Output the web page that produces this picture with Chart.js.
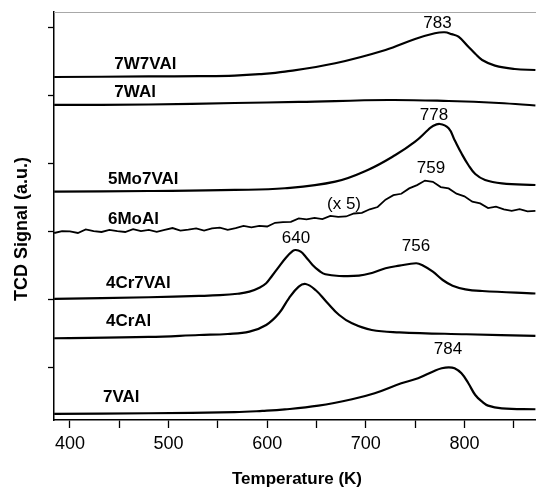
<!DOCTYPE html>
<html>
<head>
<meta charset="utf-8">
<script src="https://cdn.jsdelivr.net/npm/chart.js@4.4.1/dist/chart.umd.min.js"></script>
<style>
  body { margin: 0; background: #fff; }
  canvas { display: block; }
</style>
</head>
<body>
<canvas id="tpr" width="536" height="488"></canvas>
<script>
// H2-TPR profiles, temperature (K) vs TCD signal (a.u., curves stacked with offsets)
const w7vTemp = [384, 480, 531, 567, 592, 618, 669, 720, 750, 770, 780, 787, 794, 804, 811, 818, 831, 851, 872]
const w7vSig = [42.79, 42.87, 42.92, 43.0, 43.2, 43.57, 44.81, 46.76, 48.38, 49.22, 49.37, 49.1, 48.72, 47.25, 46.2, 45.29, 44.46, 43.97, 43.82]

const wTemp = [384, 480, 567, 632, 723, 784, 835, 872]
const wSig = [38.68, 38.75, 38.97, 39.12, 39.41, 39.26, 38.97, 38.6]

const mo7vTemp = [384, 480, 567, 618, 669, 702, 730, 750, 763, 767, 775, 784, 790, 797, 804, 811, 821, 838, 872]
const mo7vSig = [25.93, 26.03, 26.18, 26.43, 27.40, 29.12, 31.32, 33.28, 35.0, 35.49, 35.88, 35.25, 33.53, 31.57, 29.85, 28.53, 27.65, 27.16, 26.91]

const moTemp = [384, 392, 400, 408, 416, 424, 432, 440, 448, 456, 464, 472, 480, 488, 496, 504, 512, 520, 528, 536,
  544, 552, 560, 568, 576, 584, 592, 600, 608, 616, 624, 632, 640, 648, 656, 664, 672, 680, 688, 696,
  704, 712, 720, 728, 736, 744, 752, 760, 768, 776, 784, 792, 800, 808, 816, 824, 832, 840, 848, 856, 864, 872]
const moSig = [19.85, 20.12, 20.08, 19.85, 20.37, 20.13, 20.0, 20.32, 20.13, 20.0, 20.42, 20.13, 20.3, 20.03, 20.31, 20.58, 20.21, 20.34, 20.52, 20.19,
  20.52, 20.65, 20.32, 20.57, 20.89, 20.67, 20.89, 20.81, 21.35, 21.45, 21.5, 22.0, 21.86, 22.08, 21.9, 22.37, 22.22, 22.28, 22.72, 22.82,
  23.34, 23.67, 24.76, 25.41, 25.62, 26.41, 26.89, 27.56, 27.37, 26.6, 26.41, 25.63, 25.25, 24.46, 24.21, 23.52, 23.72, 23.32, 23.1, 23.35, 23.02, 23.09]

const cr7vTemp = [384, 480, 531, 552, 570, 582, 592, 599, 605, 612, 619, 626, 629, 634, 639, 646, 653, 659, 673, 693, 707, 720, 734, 751, 757, 768, 778, 788, 801, 818, 872]
const cr7vSig = [10.15, 10.4, 10.59, 10.7, 10.92, 11.22, 11.81, 12.46, 13.57, 14.90, 16.22, 17.21, 17.35, 17.10, 16.37, 15.15, 14.26, 13.78, 13.53, 13.57, 14.01, 14.66, 15.04, 15.40, 15.15, 14.16, 12.94, 12.10, 11.57, 11.32, 10.95]

const crTemp = [384, 480, 531, 560, 582, 599, 612, 622, 632, 639, 649, 660, 673, 686, 706, 734, 802, 872]
const crSig = [4.37, 4.56, 4.85, 5.0, 5.34, 6.32, 8.04, 10.25, 11.96, 12.35, 11.47, 9.75, 7.79, 6.57, 5.59, 5.25, 4.96, 4.71]

const v7Temp = [384, 480, 567, 595, 618, 652, 686, 709, 736, 753, 770, 777, 784, 790, 797, 804, 811, 818, 824, 838, 872]
const v7Sig = [-6.76, -6.66, -6.5, -6.32, -6.1, -5.54, -4.60, -3.72, -2.25, -1.51, -0.40, -0.04, 0.10, -0.04, -0.78, -2.25, -3.97, -4.96, -5.54, -5.93, -6.07]

const xTicks = [400, 450, 500, 550, 600, 650, 700, 750, 800, 850]
const yTicks = [0, 10, 20, 30, 40, 50]

// curve names and peak labels, anchored in data units
const curveNames = ['7W7VAl', '7WAl', '5Mo7VAl', '6MoAl', '4Cr7VAl', '4CrAl', '7VAl']
const nameAt = [[445, 44.6], [445, 40.5], [438.5, 27.7], [438.5, 21.9], [436.5, 12.4], [436.5, 6.8], [433.5, -4.3]]
const peakText = ['783', '778', '759', '(x 5)', '640', '756', '784']
const peakAt = [[772.7, 50.7], [769.2, 37.2], [766.1, 29.4], [677.9, 24.1], [629.2, 19.1], [750.9, 17.9], [783.4, 2.8]]

const ff = '"Liberation Sans", Arial, Helvetica, sans-serif'

function pts(xs, ys) {
  return xs.map((t, i) => ({ x: t, y: ys[i] }))
}

function curve(label, xs, ys, smooth) {
  return {
    label: label,
    data: pts(xs, ys),
    borderColor: '#000',
    borderWidth: smooth ? 2.2 : 1.8,
    pointRadius: 0,
    fill: false,
    tension: smooth ? 0.4 : 0
  }
}

const textPlugin = {
  id: 'tprText',
  afterDatasetsDraw(chart) {
    const ctx = chart.ctx
    const area = chart.chartArea
    const x = chart.scales.x
    const y = chart.scales.y
    ctx.save()
    // thin grey frame line along the top
    ctx.strokeStyle = '#a8a8a8'
    ctx.lineWidth = 1
    ctx.beginPath()
    ctx.moveTo(area.left, area.top + 0.5)
    ctx.lineTo(area.right, area.top + 0.5)
    ctx.stroke()

    ctx.fillStyle = '#000'
    ctx.textBaseline = 'middle'
    ctx.textAlign = 'left'
    ctx.font = 'bold 17px ' + ff
    curveNames.forEach((n, i) => {
      ctx.fillText(n, x.getPixelForValue(nameAt[i][0]), y.getPixelForValue(nameAt[i][1]))
    })
    ctx.textAlign = 'center'
    ctx.font = '17px ' + ff
    peakText.forEach((p, i) => {
      ctx.fillText(p, x.getPixelForValue(peakAt[i][0]), y.getPixelForValue(peakAt[i][1]))
    })

    // axis titles
    ctx.font = 'bold 17px ' + ff
    ctx.fillText('Temperature (K)', (area.left + area.right) / 2 + 2, area.bottom + 59)
    ctx.translate(22, (area.top + area.bottom) / 2 + 13)
    ctx.rotate(-Math.PI / 2)
    ctx.font = 'bold 18px ' + ff
    ctx.fillText('TCD Signal (a.u.)', 0, 0)
    ctx.restore()
  }
}

new Chart(document.getElementById('tpr').getContext('2d'), {
  type: 'line',
  data: {
    datasets: [
      curve('7W7VAl', w7vTemp, w7vSig, true),
      curve('7WAl', wTemp, wSig, true),
      curve('5Mo7VAl', mo7vTemp, mo7vSig, true),
      curve('6MoAl', moTemp, moSig, false),
      curve('4Cr7VAl', cr7vTemp, cr7vSig, true),
      curve('4CrAl', crTemp, crSig, true),
      curve('7VAl', v7Temp, v7Sig, true)
    ]
  },
  options: {
    responsive: false,
    animation: false,
    devicePixelRatio: 1,
    layout: { padding: { top: 12, left: 0, right: 0, bottom: 0 } },
    plugins: { legend: { display: false }, tooltip: { enabled: false } },
    scales: {
      x: {
        type: 'linear',
        min: 383.8,
        max: 872.6,
        afterBuildTicks: s => { s.ticks = xTicks.map(v => ({ value: v })) },
        afterFit: s => { s.height = 68 },
        grid: { drawOnChartArea: false, tickLength: 8, tickColor: '#000', tickWidth: 1.3 },
        border: { color: '#000', width: 1.5 },
        ticks: {
          color: '#000',
          font: { family: ff, size: 18 },
          padding: 5,
          maxRotation: 0,
          autoSkip: false,
          callback: v => (v % 100 === 0 ? String(v) : '')
        }
      },
      y: {
        type: 'linear',
        min: -7.65,
        max: 52.35,
        afterBuildTicks: s => { s.ticks = yTicks.map(v => ({ value: v })) },
        afterFit: s => { s.width = 54 },
        grid: { drawOnChartArea: false, tickLength: 6, tickColor: '#000', tickWidth: 1.3 },
        border: { color: '#000', width: 1.5 },
        ticks: { display: false }
      }
    }
  },
  plugins: [textPlugin]
})
</script>
</body>
</html>
